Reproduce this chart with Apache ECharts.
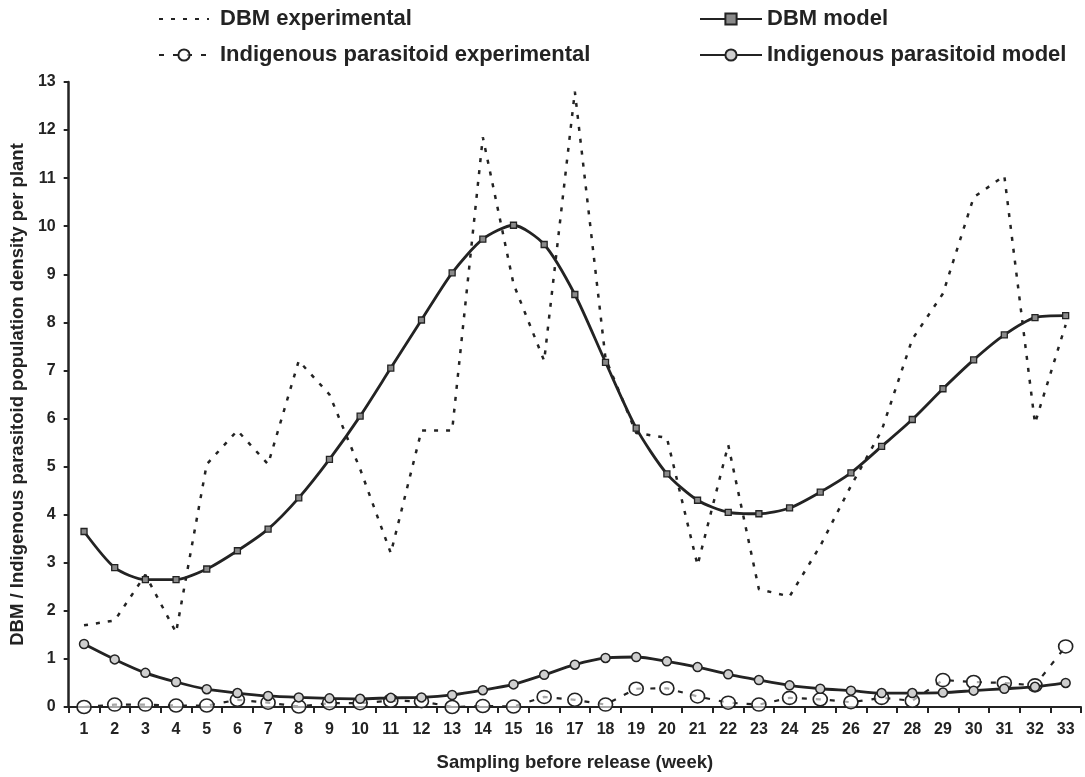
<!DOCTYPE html>
<html>
<head>
<meta charset="utf-8">
<script src="https://cdn.jsdelivr.net/npm/echarts@6/dist/echarts.min.js"></script>
<style>
  html, body { margin: 0; padding: 0; background: #fff; }
  #chart { width: 1085px; height: 777px; }
</style>
</head>
<body>
<div id="chart"></div>
<script>
// Sampling weeks before release
const weeks = Array.from({ length: 33 }, (_, i) => String(i + 1));

// DBM density per plant (field counts)
const dbmExperimental = [1.7, 1.8, 2.75, 1.55, 5.05, 5.75, 5.05, 7.2, 6.5, 4.95,
  3.2, 5.75, 5.75, 11.85, 8.8, 7.2, 12.8, 7.25, 5.7, 5.6,
  2.95, 5.45, 2.45, 2.3, 3.35, 4.6, 5.75, 7.65, 8.6, 10.6,
  11.05, 5.9, 7.95];

// DBM density per plant (model)
const dbmModel = [3.65, 2.9, 2.65, 2.65, 2.87, 3.25, 3.7, 4.35, 5.15, 6.05,
  7.05, 8.05, 9.03, 9.73, 10.02, 9.62, 8.58, 7.17, 5.8, 4.85,
  4.3, 4.05, 4.02, 4.14, 4.47, 4.87, 5.42, 5.98, 6.62, 7.22,
  7.74, 8.1, 8.14];

// Indigenous parasitoid density per plant (field counts)
const parasitoidExperimental = [0, 0.05, 0.05, 0.03, 0.03, 0.15, 0.09, 0.01, 0.08, 0.08,
  0.13, 0.12, 0.0, 0.02, 0.01, 0.21, 0.15, 0.05, 0.38, 0.39,
  0.22, 0.09, 0.05, 0.19, 0.16, 0.1, 0.19, 0.13, 0.56, 0.52,
  0.5, 0.45, 1.26];

// Indigenous parasitoid density per plant (model)
const parasitoidModel = [1.31, 0.99, 0.71, 0.52, 0.37, 0.29, 0.23, 0.2, 0.18, 0.17,
  0.19, 0.2, 0.25, 0.35, 0.47, 0.67, 0.88, 1.02, 1.04, 0.95,
  0.83, 0.68, 0.56, 0.45, 0.38, 0.34, 0.29, 0.29, 0.3, 0.34,
  0.38, 0.42, 0.5];

const ink = '#232323';
const font = "'Liberation Sans', Arial, sans-serif";
const legendText = { fontFamily: font, fontSize: 22, lineHeight: 22, fontWeight: 'bold', color: ink };

const chart = echarts.init(document.getElementById('chart'), null, { renderer: 'canvas' });

chart.setOption({
  backgroundColor: '#fff',
  animation: false,
  textStyle: { fontFamily: font },
  legend: [
    {
      // field observations: plain dashed key for DBM, dashed key with ring for parasitoids
      data: [
        { name: 'DBM experimental', itemStyle: { opacity: 0 } },
        { name: 'Indigenous parasitoid experimental' }
      ],
      orient: 'vertical',
      left: 153,
      top: 3,
      itemWidth: 50,
      itemHeight: 14,
      itemGap: 14,
      textStyle: Object.assign({ padding: [0, 0, 0, 6] }, legendText)
    },
    {
      // model curves
      data: ['DBM model', 'Indigenous parasitoid model'],
      orient: 'vertical',
      left: 694,
      top: 3,
      itemWidth: 62,
      itemHeight: 14,
      itemGap: 14,
      textStyle: Object.assign({ padding: [0, 0, 0, 0] }, legendText)
    }
  ],
  grid: { left: 68, right: 4, top: 82, bottom: 70, containLabel: false },
  xAxis: {
    type: 'category',
    data: weeks,
    boundaryGap: true,
    name: 'Sampling before release (week)',
    nameLocation: 'middle',
    nameGap: 46,
    nameTextStyle: { fontFamily: font, fontSize: 18.5, fontWeight: 'bold', color: ink },
    axisLine: { lineStyle: { color: ink, width: 2 } },
    axisTick: { show: true, interval: 0, length: 6, lineStyle: { color: ink, width: 2 } },
    axisLabel: { interval: 0, margin: 15, fontFamily: font, fontSize: 16, fontWeight: 'bold', color: ink },
    splitLine: { show: false }
  },
  yAxis: {
    type: 'value',
    min: 0,
    max: 13,
    interval: 1,
    name: 'DBM / Indigenous parasitoid population density per plant',
    nameLocation: 'middle',
    nameRotate: 90,
    nameGap: 38,
    nameTextStyle: { fontFamily: font, fontSize: 18.5, fontWeight: 'bold', color: ink },
    axisLine: { show: true, lineStyle: { color: ink, width: 2.5 } },
    axisTick: { show: true, length: 5, lineStyle: { color: ink, width: 2 } },
    axisLabel: { margin: 13, fontFamily: font, fontSize: 16, fontWeight: 'bold', color: ink },
    splitLine: { show: false }
  },
  series: [
    {
      name: 'DBM experimental',
      type: 'line',
      data: dbmExperimental,
      symbol: 'none',
      lineStyle: { color: ink, width: 2.5, type: [4, 8] },
      itemStyle: { color: ink },
      z: 2
    },
    {
      name: 'DBM model',
      type: 'line',
      data: dbmModel,
      symbol: 'rect',
      symbolSize: 6,
      smooth: 0.25,
      lineStyle: { color: ink, width: 2.8 },
      itemStyle: { color: '#8a8a8a', borderColor: ink, borderWidth: 1.3 },
      z: 3
    },
    {
      name: 'Indigenous parasitoid experimental',
      type: 'line',
      data: parasitoidExperimental,
      symbol: 'circle',
      symbolSize: [14, 13],
      lineStyle: { color: ink, width: 2.2, type: [5, 9] },
      itemStyle: { color: 'rgba(255,255,255,0.6)', borderColor: ink, borderWidth: 1.6 },
      z: 2
    },
    {
      name: 'Indigenous parasitoid model',
      type: 'line',
      data: parasitoidModel,
      symbol: 'circle',
      symbolSize: 9,
      smooth: 0.25,
      lineStyle: { color: ink, width: 2.8 },
      itemStyle: { color: '#cfcfcf', borderColor: ink, borderWidth: 1.5 },
      z: 3
    }
  ]
});
</script>
</body>
</html>
